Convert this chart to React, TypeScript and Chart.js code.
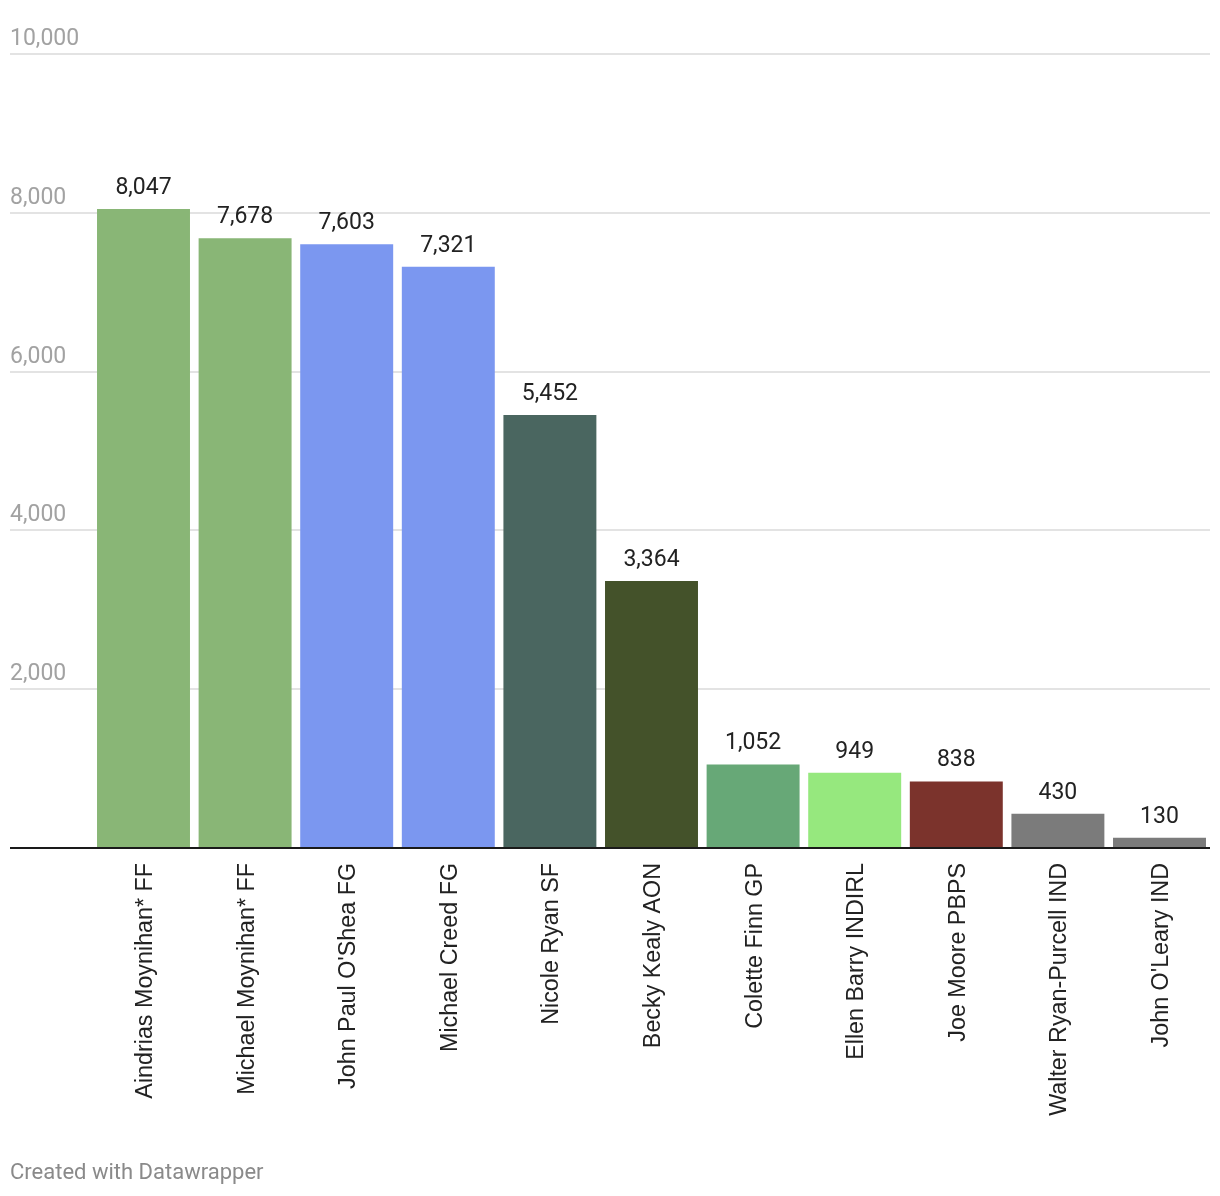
import React, { useEffect, useRef } from "react";
import { Chart, registerables } from "chart.js";

Chart.register(...registerables);

const candidates = [
  "Aindrias Moynihan* FF",
  "Michael Moynihan* FF",
  "John Paul O'Shea FG",
  "Michael Creed FG",
  "Nicole Ryan SF",
  "Becky Kealy AON",
  "Colette Finn GP",
  "Ellen Barry INDIRL",
  "Joe Moore PBPS",
  "Walter Ryan-Purcell IND",
  "John O'Leary IND",
];

const votes = [8047, 7678, 7603, 7321, 5452, 3364, 1052, 949, 838, 430, 130];

const barColors = [
  "#89b676",
  "#89b676",
  "#7b97f0",
  "#7b97f0",
  "#4a6660",
  "#44522a",
  "#67a877",
  "#96e87e",
  "#7b332c",
  "#7b7b7b",
  "#7b7b7b",
];

const yTicks = [2000, 4000, 6000, 8000, 10000];
const yMax = 10000;
const footerText = "Created with Datawrapper";

const W = 1220;
const H = 1196;
const FONT = "Roboto, 'Noto Sans', sans-serif";
const LABEL_FONT = "'Liberation Sans', Arial, Helvetica, sans-serif";

const fmt = (v: number) => v.toLocaleString("en-US");

const decorPlugin = {
  id: "decor",
  beforeDatasetsDraw(chart: any) {
    const ctx = chart.ctx;
    const y = chart.scales.y;
    ctx.save();
    for (const v of yTicks) {
      const py = Math.round(y.getPixelForValue(v));
      ctx.strokeStyle = "#e3e3e3";
      ctx.lineWidth = 2;
      ctx.beginPath();
      ctx.moveTo(10, py);
      ctx.lineTo(1210, py);
      ctx.stroke();
      ctx.fillStyle = "#a2a2a2";
      ctx.font = `23px ${FONT}`;
      ctx.textAlign = "left";
      ctx.textBaseline = "alphabetic";
      ctx.fillText(fmt(v), 10, py - 9);
    }
    ctx.restore();
  },
  afterDatasetsDraw(chart: any) {
    const ctx = chart.ctx;
    const y = chart.scales.y;
    ctx.save();
    const meta = chart.getDatasetMeta(0);
    ctx.fillStyle = "#222222";
    ctx.font = `23px ${FONT}`;
    ctx.textAlign = "center";
    ctx.textBaseline = "alphabetic";
    meta.data.forEach((bar: any, i: number) => {
      ctx.fillText(fmt(votes[i]), bar.x, bar.y - 15);
    });
    const p0 = y.getPixelForValue(0);
    ctx.strokeStyle = "#1a1a1a";
    ctx.lineWidth = 2;
    ctx.beginPath();
    ctx.moveTo(10, p0);
    ctx.lineTo(1210, p0);
    ctx.stroke();
    ctx.fillStyle = "#8a8a8a";
    ctx.font = `22px ${FONT}`;
    ctx.textAlign = "left";
    ctx.fillText(footerText, 10, 1179);
    ctx.restore();
  },
};

export default function App() {
  const ref = useRef<HTMLCanvasElement | null>(null);
  useEffect(() => {
    document.body.style.margin = "0";
    const canvas = ref.current;
    if (!canvas) return;
    const chart = new Chart(canvas, {
      type: "bar",
      data: {
        labels: candidates,
        datasets: [
          {
            data: votes,
            backgroundColor: barColors,
            borderWidth: 0,
            categoryPercentage: 1,
            barPercentage: 0.915,
          },
        ],
      },
      options: {
        responsive: false,
        animation: false,
        devicePixelRatio: 1,
        layout: { padding: { left: 92.7, right: 9.7, top: 54, bottom: 0 } },
        plugins: {
          legend: { display: false },
          tooltip: { enabled: false },
          title: { display: false },
        },
        scales: {
          x: {
            type: "category",
            grid: { display: false, drawTicks: false },
            border: { display: false },
            ticks: {
              autoSkip: false,
              minRotation: 90,
              maxRotation: 90,
              padding: 15,
              labelOffset: 2,
              color: "#222222",
              font: { family: LABEL_FONT, size: 23.3 },
            },
            afterFit: (scale: any) => {
              scale.height = H - 848;
            },
          },
          y: {
            display: false,
            min: 0,
            max: yMax,
          },
        },
      },
      plugins: [decorPlugin],
    });
    return () => chart.destroy();
  }, []);
  return (
    <div style={{ width: W, height: H, background: "#fff" }}>
      <canvas ref={ref} width={W} height={H} style={{ display: "block" }} />
    </div>
  );
}
